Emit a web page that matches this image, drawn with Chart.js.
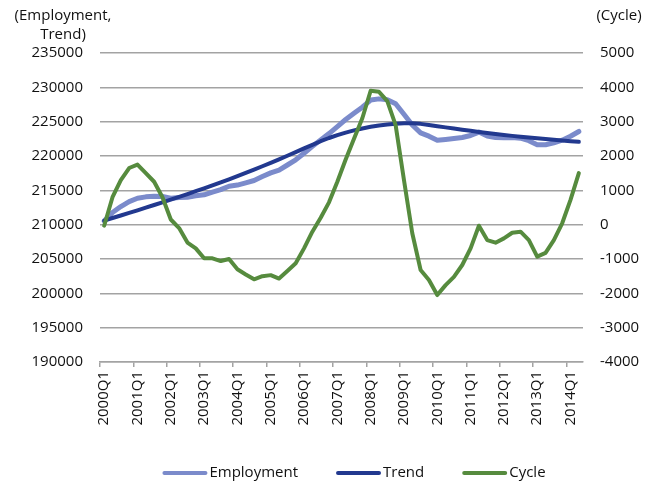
<!DOCTYPE html>
<html>
<head>
<meta charset="utf-8">
<script src="https://cdn.jsdelivr.net/npm/chart.js@4.4.1/dist/chart.umd.min.js"></script>
<style>
    html, body { margin: 0; padding: 0; background: #ffffff; }
    #wrap { width: 656px; height: 481px; }
</style>
</head>
<body>
<div id="wrap"><canvas id="myLineChart" width="656" height="481"></canvas></div>
<script>
// Quarters 2000Q1 .. 2014Q2
const years = [2000, 2001, 2002, 2003, 2004, 2005, 2006, 2007, 2008, 2009, 2010, 2011, 2012, 2013, 2014];
const quarters = ['Q1', 'Q2', 'Q3', 'Q4'];

// Employment (left axis)
const employment = [
    210550, 211770, 212640, 213360, 213840, 214050, 214150, 214100,
    213850, 213950, 214000, 214200, 214350, 214740, 215100, 215600,
    215770, 216090, 216430, 217010, 217540, 217950, 218690, 219450,
    220410, 221400, 222350, 223270, 224290, 225310, 226230, 227110,
    228150, 228320, 228200, 227600, 226080, 224510, 223360, 222890,
    222290, 222410, 222550, 222700, 222980, 223480, 222900, 222680,
    222660, 222700, 222600, 222230, 221640, 221640, 221910, 222300,
    222880, 223570
];

// HP trend (left axis)
const trend = [
    210600, 210970, 211340, 211710, 212090, 212470, 212860, 213250,
    213650, 214050, 214460, 214870, 215290, 215720, 216160, 216610,
    217070, 217540, 218020, 218510, 219010, 219520, 220040, 220570,
    221100, 221610, 222150, 222620, 223040, 223410, 223730, 224010,
    224250, 224450, 224600, 224700, 224780, 224760, 224680, 224500,
    224340, 224170, 224000, 223830, 223670, 223510, 223350, 223200,
    223060, 222930, 222800, 222680, 222570, 222460, 222360, 222260,
    222160, 222070
];

// Cycle (right axis)
const cycle = [
    -30, 800, 1300, 1650, 1750, 1500, 1250, 800,
    150, -100, -520, -690, -980, -980, -1060, -1000,
    -1300, -1450, -1590, -1500, -1470, -1570, -1350, -1125,
    -690, -205, 200, 650, 1250, 1900, 2500, 3100,
    3900, 3870, 3600, 2900, 1300, -250, -1320, -1610,
    -2050, -1760, -1520, -1175, -690, -30, -450, -525,
    -400, -235, -205, -450, -930, -820, -450, 40,
    720, 1500
];

// Axis ranges and steps
const leftTicks = { min: 190000, max: 235000, step: 5000 };
const rightTicks = { min: -4000, max: 5000, step: 1000 };

const seriesNames = ['Employment', 'Trend', 'Cycle'];
const seriesColors = ['#7b8bcb', '#22398f', '#568b3e'];

const labels = [];
years.forEach(y => quarters.forEach(q => labels.push(y + q)));
labels.length = employment.length;

const textColor = '#111111';
const gridColor = '#a3a3a3';
const fontFamily = '"Open Sans", "Noto Sans", sans-serif';

Chart.defaults.font.family = fontFamily;
Chart.defaults.font.size = 15;
Chart.defaults.color = textColor;

// Unit labels at the top and the legend at the bottom
const extraText = {
    id: 'extraText',
    afterDraw(chart) {
        const ctx = chart.ctx;
        ctx.save();
        ctx.font = '15px ' + fontFamily;
        ctx.fillStyle = textColor;
        ctx.textAlign = 'center';
        ctx.textBaseline = 'middle';
        ctx.fillText('(Employment,', 63, 16);
        ctx.fillText('Trend)', 63, 35);
        ctx.fillText('(Cycle)', 619, 16);

        // legend
        const lineLen = 45, gap = 2, itemGap = 38, legendY = 473;
        const widths = seriesNames.map(n => lineLen + gap + ctx.measureText(n).width);
        const total = widths.reduce((a, b) => a + b, 0) + itemGap * (widths.length - 1);
        let x = 354 - total / 2;
        ctx.textAlign = 'left';
        ctx.lineCap = 'round';
        ctx.lineWidth = 4;
        seriesNames.forEach((name, i) => {
            ctx.strokeStyle = seriesColors[i];
            ctx.beginPath();
            ctx.moveTo(x + 2, legendY);
            ctx.lineTo(x + lineLen - 2, legendY);
            ctx.stroke();
            ctx.fillText(name, x + lineLen + gap, legendY);
            x += widths[i] + itemGap;
        });
        ctx.restore();
    }
};

const ctx = document.getElementById('myLineChart').getContext('2d');
const myLineChart = new Chart(ctx, {
    type: 'line',
    data: {
        labels: labels,
        datasets: [{
            label: seriesNames[0],
            data: employment,
            borderColor: seriesColors[0],
            borderWidth: 5,
            yAxisID: 'y',
            order: 2
        }, {
            label: seriesNames[1],
            data: trend,
            borderColor: seriesColors[1],
            borderWidth: 4,
            yAxisID: 'y',
            order: 1
        }, {
            label: seriesNames[2],
            data: cycle,
            borderColor: seriesColors[2],
            borderWidth: 4,
            yAxisID: 'y1',
            order: 0
        }]
    },
    options: {
        responsive: false,
        animation: false,
        devicePixelRatio: 1,
        layout: { padding: { top: 53, left: 0, right: 0, bottom: 0 } },
        elements: {
            point: { radius: 0, hoverRadius: 0 },
            line: { tension: 0, fill: false, borderJoinStyle: 'round', borderCapStyle: 'round' }
        },
        plugins: {
            legend: { display: false },
            tooltip: { enabled: false }
        },
        scales: {
            x: {
                type: 'category',
                offset: true,
                afterFit: s => { s.height = 119; },
                grid: {
                    offset: true,
                    drawOnChartArea: false,
                    drawTicks: true,
                    tickLength: 5,
                    lineWidth: 1.5,
                    color: c => (c.index !== undefined && c.index % 4 === 0) ? gridColor : 'rgba(0,0,0,0)'
                },
                border: { display: true, color: gridColor, width: 1.5 },
                ticks: {
                    autoSkip: false,
                    maxRotation: 90,
                    minRotation: 90,
                    padding: 4,
                    color: textColor,
                    callback: function (value) {
                        const l = this.getLabelForValue(value);
                        return l.endsWith('Q1') ? l : '';
                    }
                }
            },
            y: {
                position: 'left',
                min: leftTicks.min,
                max: leftTicks.max,
                afterFit: s => { s.width = 100; },
                grid: { color: gridColor, lineWidth: 1.5, drawTicks: false },
                border: { display: false },
                ticks: { stepSize: leftTicks.step, padding: 17, color: textColor, callback: v => String(v) }
            },
            y1: {
                position: 'right',
                min: rightTicks.min,
                max: rightTicks.max,
                afterFit: s => { s.width = 73; },
                grid: { drawOnChartArea: false, drawTicks: false },
                border: { display: false },
                ticks: { stepSize: rightTicks.step, padding: 17, color: textColor, callback: v => String(v) }
            }
        }
    },
    plugins: [extraText]
});
</script>
</body>
</html>
